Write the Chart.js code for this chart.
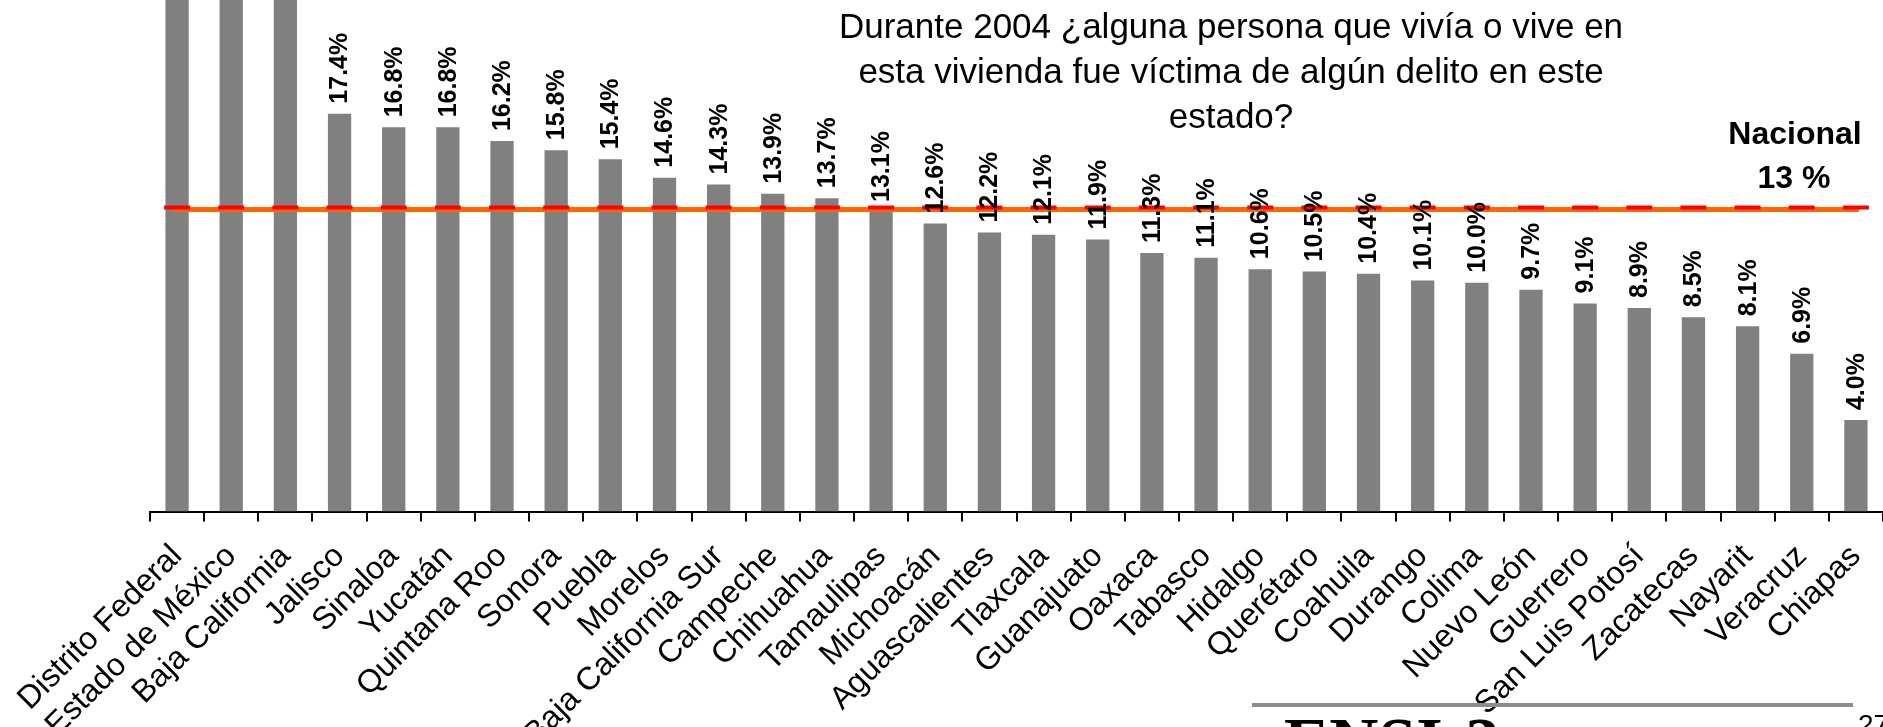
<!DOCTYPE html>
<html>
<head>
<meta charset="utf-8">
<script src="https://cdn.jsdelivr.net/npm/chart.js@4.4.1/dist/chart.umd.min.js"></script>
<style>
    html, body { margin: 0; padding: 0; background: #fff; overflow: hidden; }
    #wrap { width: 1883px; height: 727px; position: relative; }
</style>
</head>
<body>
<div id="wrap"><canvas id="chart" width="1883" height="727"></canvas></div>
<script>
const estados = [
    "Distrito Federal", "Estado de México", "Baja California", "Jalisco",
    "Sinaloa", "Yucatán", "Quintana Roo", "Sonora", "Puebla", "Morelos",
    "Baja California Sur", "Campeche", "Chihuahua", "Tamaulipas", "Michoacán",
    "Aguascalientes", "Tlaxcala", "Guanajuato", "Oaxaca", "Tabasco", "Hidalgo",
    "Querétaro", "Coahuila", "Durango", "Colima", "Nuevo León", "Guerrero",
    "San Luis Potosí", "Zacatecas", "Nayarit", "Veracruz", "Chiapas"
];

// los tres primeros salen del recorte de la imagen: valores estimados
const porcentajes = [
    25.7, 24.4, 22.9, 17.4,
    16.8, 16.8, 16.2, 15.8, 15.4, 14.6,
    14.3, 13.9, 13.7, 13.1, 12.6,
    12.2, 12.1, 11.9, 11.3, 11.1, 10.6,
    10.5, 10.4, 10.1, 10.0, 9.7, 9.1,
    8.9, 8.5, 8.1, 6.9, 4.0
];

const nacional = 13;
const nacionalLinea = 13.3;
const yMax = 22.37;

const titulo = [
    "Durante 2004 ¿alguna persona que vivía o vive en",
    "esta vivienda fue víctima de algún delito en este",
    "estado?"
];

const FONT = '"Liberation Sans", Arial, sans-serif';
Chart.defaults.font.family = FONT;

const extras = {
    id: "extras",
    afterDatasetsDraw(chart) {
        const ctx = chart.ctx;
        const xs = chart.scales.x;
        const ys = chart.scales.y;
        const n = estados.length;
        const x0 = xs.getPixelForValue(0);
        const x1 = xs.getPixelForValue(n - 1);
        const paso = (x1 - x0) / (n - 1);
        const yLinea = ys.getPixelForValue(nacionalLinea);

        ctx.save();
        // linea naranja
        ctx.strokeStyle = "#FF6600";
        ctx.lineWidth = 5;
        ctx.beginPath();
        ctx.moveTo(x0 - 4, yLinea + 2);
        ctx.lineTo(x1 + 3, yLinea + 2);
        ctx.stroke();

        // linea roja punteada
        ctx.strokeStyle = "#FF0000";
        ctx.lineWidth = 4;
        ctx.setLineDash([26, paso - 26]);
        ctx.beginPath();
        ctx.moveTo(x0 - 13, yLinea);
        ctx.lineTo(x1 + 14, yLinea);
        ctx.stroke();
        ctx.setLineDash([]);

        // etiquetas de valores
        const meta = chart.getDatasetMeta(0);
        ctx.font = "bold 25px " + FONT;
        ctx.fillStyle = "#000";
        ctx.textAlign = "left";
        ctx.textBaseline = "middle";
        meta.data.forEach((bar, i) => {
            ctx.save();
            ctx.translate(bar.x + 1, bar.y - 10);
            ctx.rotate(-Math.PI / 2);
            ctx.fillText(porcentajes[i].toFixed(1) + "%", 0, 0);
            ctx.restore();
        });
        ctx.restore();
    },
    afterDraw(chart) {
        const ctx = chart.ctx;
        ctx.save();
        ctx.fillStyle = "#000";
        ctx.textAlign = "center";
        ctx.textBaseline = "alphabetic";

        ctx.font = "35px " + FONT;
        titulo.forEach((linea, i) => {
            ctx.fillText(linea, 1231, 38 + i * 45);
        });

        ctx.font = "bold 32px " + FONT;
        ctx.fillText("Nacional", 1795, 144);
        ctx.fillText(nacional + " %", 1794, 188);

        // pie de pagina
        ctx.strokeStyle = "#8c8c8c";
        ctx.lineWidth = 4;
        ctx.beginPath();
        ctx.moveTo(1252, 705);
        ctx.lineTo(1853, 705);
        ctx.stroke();

        ctx.textAlign = "left";
        ctx.font = 'bold 68px "Liberation Serif", "Times New Roman", serif';
        ctx.fillText("ENSI-3", 1284, 764);
        ctx.font = "28px " + FONT;
        ctx.fillText("27", 1858, 734);
        ctx.restore();
    }
};

new Chart(document.getElementById("chart"), {
    type: "bar",
    data: {
        labels: estados,
        datasets: [{
            data: porcentajes,
            backgroundColor: "#808080",
            borderWidth: 0,
            categoryPercentage: 1,
            barPercentage: 0.43
        }]
    },
    options: {
        responsive: false,
        animation: false,
        devicePixelRatio: 1,
        layout: {
            padding: { left: 150, right: 0, top: 0, bottom: 0 }
        },
        plugins: {
            legend: { display: false },
            tooltip: { enabled: false }
        },
        scales: {
            x: {
                offset: true,
                grid: {
                    drawOnChartArea: false,
                    drawTicks: true,
                    tickLength: 10,
                    color: "#000",
                    lineWidth: 2,
                    offset: true
                },
                border: { display: true, color: "#000", width: 2 },
                ticks: {
                    autoSkip: false,
                    minRotation: 45,
                    maxRotation: 45,
                    color: "#000",
                    padding: 16,
                    font: { size: 32 }
                },
                afterFit(scale) {
                    scale.height = 727 - 511.5;
                    scale.paddingLeft = 0;
                    scale.paddingRight = 0;
                }
            },
            y: {
                display: false,
                min: 0,
                max: yMax
            }
        }
    },
    plugins: [extras]
});
</script>
</body>
</html>
